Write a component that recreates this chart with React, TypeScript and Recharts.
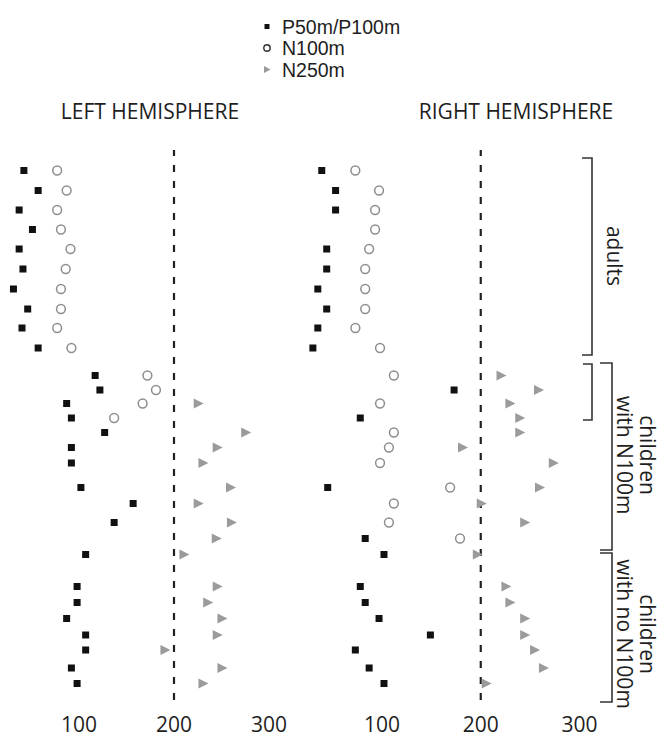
import { ScatterChart, Scatter, XAxis, YAxis, ReferenceLine } from "recharts";

const FONT = '"Open Sans", "Noto Sans", sans-serif';
const LEGEND_FONT = '"Liberation Sans", Arial, sans-serif';
const INK = "#1e1e1e";

// vertical position of each subject, top to bottom (adults, children with N100m, children with no N100m)
const ROW_Y = [
  2.05, 4.05, 6.0, 7.95, 9.9, 11.9, 13.9, 15.9, 17.8, 19.8,
  22.55, 24.0, 25.35, 26.8, 28.25, 29.75, 31.3, 33.75, 35.35, 37.25, 38.85,
  40.45, 43.65, 45.25, 46.85, 48.5, 50.0, 51.8, 53.35,
];

// latencies (ms), null = component not found
const LEFT_P = [
  42, 57, 37, 51, 37, 41, 31, 46, 40, 57,
  117, 122, 87, 92, 127, 92, 92, 102, 157, 137, null,
  107, 98, 98, 87, 107, 107, 92, 98,
];
const LEFT_N100 = [
  77, 87, 77, 81, 91, 86, 81, 81, 77, 92,
  172, 181, 167, 137, null, null, null, null, null, null, null,
  null, null, null, null, null, null, null, null,
];
const LEFT_N250 = [
  null, null, null, null, null, null, null, null, null, null,
  null, null, 226, null, 276, 246, 231, 260, 226, 261, 245,
  211, 246, 236, 251, 246, 191, 251, 231,
];

const RIGHT_P = [
  39, 53, 53, null, 44, 44, 35, 44, 35, 30,
  null, 173, null, 78, null, null, null, 45, null, null, 83,
  102, 78, 83, 97, 149, 73, 87, 102,
];
const RIGHT_N100 = [
  73, 97, 93, 93, 87, 83, 83, 83, 73, 98,
  112, null, 98, null, 112, 107, 98, 169, 112, 107, 179,
  null, null, null, null, null, null, null, null,
];
const RIGHT_N250 = [
  null, null, null, null, null, null, null, null, null, null,
  221, 259, 230, 240, 240, 182, 274, 260, 201, 245, null,
  197, 226, 230, 245, 245, 255, 264, 206,
];

const LEGEND = ["P50m/P100m", "N100m", "N250m"];
const X_TICKS = [100, 200, 300];
const CUTOFF = 200;

const toPoints = (vals: (number | null)[]) =>
  vals
    .map((v, i) => (v == null ? null : { x: v, y: ROW_Y[i] }))
    .filter((p): p is { x: number; y: number } => p !== null);

const Square = (p: any) => (
  <rect x={p.cx - 3.5} y={p.cy - 3.5} width={7} height={7} fill="#111" />
);
const Ring = (p: any) => (
  <circle cx={p.cx} cy={p.cy} r={4.4} fill="none" stroke="#8e8e8e" strokeWidth={1.5} />
);
const Tri = (p: any) => (
  <path
    d={`M${p.cx - 5},${p.cy - 5} L${p.cx + 5},${p.cy} L${p.cx - 5},${p.cy + 5} Z`}
    fill="#9b9b9b"
  />
);

function Panel({
  left,
  width,
  p,
  n100,
  n250,
}: {
  left: number;
  width: number;
  p: (number | null)[];
  n100: (number | null)[];
  n250: (number | null)[];
}) {
  return (
    <div style={{ position: "absolute", left, top: 150 }}>
      <ScatterChart width={width} height={590} margin={{ top: 0, right: 0, bottom: 0, left: 0 }}>
        <XAxis
          type="number"
          dataKey="x"
          domain={[20, 330]}
          ticks={X_TICKS}
          allowDataOverflow
          axisLine={false}
          tickLine={false}
          tickSize={0}
          tickMargin={17}
          height={40}
          tick={{ fontSize: 21, fill: INK, fontFamily: FONT }}
        />
        <YAxis type="number" dataKey="y" domain={[0, 55]} reversed hide width={0} />
        <ReferenceLine x={CUTOFF} stroke="#222" strokeWidth={2.2} strokeDasharray="7 9" />
        <Scatter data={toPoints(n250)} shape={Tri} isAnimationActive={false} />
        <Scatter data={toPoints(n100)} shape={Ring} isAnimationActive={false} />
        <Scatter data={toPoints(p)} shape={Square} isAnimationActive={false} />
      </ScatterChart>
    </div>
  );
}

function Rotated({ x, y, children }: { x: number; y: number; children: string }) {
  return (
    <text
      transform={`translate(${x},${y}) rotate(90)`}
      textAnchor="middle"
      dominantBaseline="central"
      fontSize={21}
      fill={INK}
    >
      {children}
    </text>
  );
}

export default function App() {
  const bracket = { fill: "none", stroke: "#333", strokeWidth: 1.6 };
  return (
    <div style={{ position: "absolute", left: 0, top: 0, width: 668, height: 742, background: "#fff" }}>
      <svg
        width={668}
        height={742}
        style={{ position: "absolute", left: 0, top: 0 }}
        fontFamily={FONT}
      >
        {/* legend */}
        <rect x={264.5} y={24} width={5} height={5} fill="#111" />
        <circle cx={267} cy={48} r={3.2} fill="none" stroke="#333" strokeWidth={1.4} />
        <path d="M264,66 L270.5,69.5 L264,73 Z" fill="#9b9b9b" />
        {LEGEND.map((s, i) => (
          <text
            key={s}
            x={282}
            y={26.5 + i * 21.5}
            fontSize={19.5}
            fontFamily={LEGEND_FONT}
            fill={INK}
            dominantBaseline="central"
          >
            {s}
          </text>
        ))}

        {/* panel titles */}
        <text x={150} y={111} fontSize={21} fill={INK} textAnchor="middle" dominantBaseline="central">
          LEFT HEMISPHERE
        </text>
        <text x={516} y={111} fontSize={21} fill={INK} textAnchor="middle" dominantBaseline="central">
          RIGHT HEMISPHERE
        </text>

        {/* group brackets */}
        <path d="M582,158 H592 V355 H582" {...bracket} />
        <path d="M583,364 H592 V420 H583" {...bracket} />
        <path d="M600,363 H612 V550 H600" {...bracket} />
        <path d="M600,553 H612 V702 H600" {...bracket} />
        <Rotated x={615} y={256}>adults</Rotated>
        <Rotated x={648} y={455}>children</Rotated>
        <Rotated x={625} y={455}>with N100m</Rotated>
        <Rotated x={648} y={634}>children</Rotated>
        <Rotated x={625} y={634}>with no N100m</Rotated>
      </svg>

      <Panel left={3} width={294.5} p={LEFT_P} n100={LEFT_N100} n250={LEFT_N250} />
      <Panel left={303.25} width={306.15} p={RIGHT_P} n100={RIGHT_N100} n250={RIGHT_N250} />
    </div>
  );
}
